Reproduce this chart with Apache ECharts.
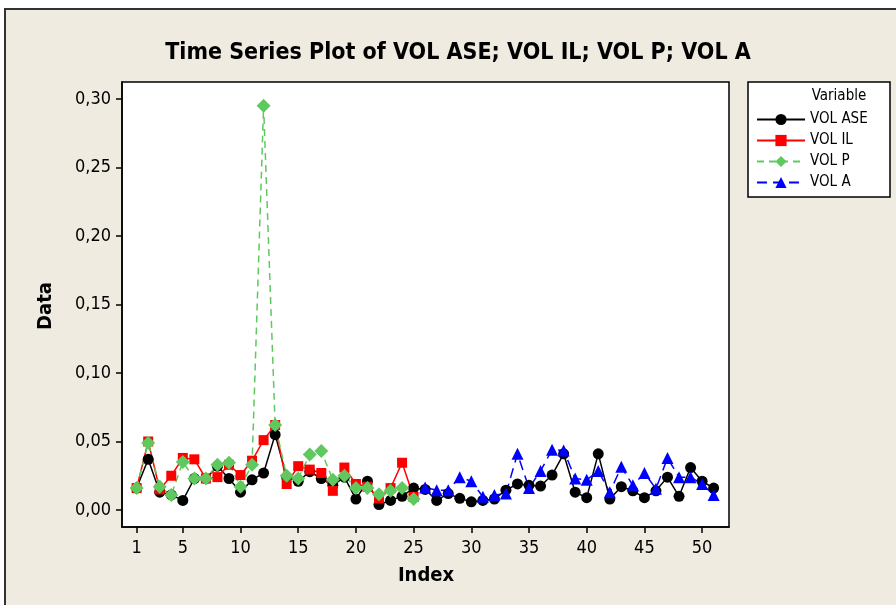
<!DOCTYPE html>
<html>
<head>
<meta charset="utf-8">
<script src="https://cdn.jsdelivr.net/npm/echarts@6/dist/echarts.min.js"></script>
<style>
html,body{margin:0;padding:0;background:#fff;width:896px;height:605px;overflow:hidden;}
#frame{position:absolute;left:4px;top:8px;width:1000px;height:800px;background:#EFEBE1;border-left:2px solid #333;border-top:2px solid #333;}
#chart{position:absolute;left:0;top:0;width:896px;height:605px;}
</style>
</head>
<body>
<div id="frame"></div>
<div id="chart"></div>
<script>
const xTicks = [1, 5, 10, 15, 20, 25, 30, 35, 40, 45, 50];
const yTicks = [0, 0.05, 0.10, 0.15, 0.20, 0.25, 0.30];

const volASE = [0.016,0.037,0.013,0.011,0.007,0.023,0.023,0.032,0.023,0.013,
                0.022,0.027,0.055,0.024,0.021,0.028,0.023,0.018,0.024,0.008,
                0.021,0.004,0.007,0.010,0.016,0.015,0.007,0.012,0.0085,0.006,
                0.007,0.008,0.0145,0.019,0.018,0.0175,0.0255,0.041,0.013,0.009,
                0.041,0.008,0.017,0.014,0.009,0.014,0.024,0.010,0.031,0.021,0.016];
const volIL = [0.016,0.050,0.015,0.025,0.038,0.037,0.023,0.024,0.033,0.0255,
               0.036,0.051,0.062,0.019,0.032,0.0295,0.027,0.014,0.031,0.019,
               0.017,0.0085,0.016,0.0345,0.0095];
const volP = [0.016,0.049,0.017,0.011,0.035,0.023,0.023,0.033,0.0345,0.017,
              0.033,0.295,0.062,0.025,0.023,0.0405,0.043,0.022,0.025,0.016,
              0.016,0.0115,0.014,0.016,0.008];
const volAStart = 26;
const volA = [0.0165,0.0145,0.0145,0.024,0.021,0.0097,0.011,0.012,0.041,0.016,
              0.0285,0.044,0.0435,0.023,0.022,0.0285,0.013,0.0315,0.018,0.027,
              0.0155,0.038,0.024,0.024,0.019,0.011];

function pairs(arr, start) { return arr.map((v, i) => [start + i, v]); }

const FONT = '"DejaVu Sans Condensed", "DejaVu Sans", Tahoma, sans-serif';
const chart = echarts.init(document.getElementById('chart'), null, {renderer: 'canvas'});

chart.setOption({
  backgroundColor: 'transparent',
  animation: false,
  grid: {left: 122, top: 82, right: 167, bottom: 78, show: true,
         backgroundColor: '#fff', borderColor: '#000', borderWidth: 1.5},
  xAxis: {type: 'value', min: -0.27, max: 52.33,
          axisLine: {show: true, onZero: false, lineStyle: {color: '#000', width: 1.5}},
          axisTick: {show: true, length: 6, customValues: xTicks, lineStyle: {color: '#000', width: 1.5}},
          axisLabel: {customValues: xTicks, margin: 12, fontFamily: FONT, fontSize: 18, color: '#000'},
          splitLine: {show: false}},
  yAxis: {type: 'value', min: -0.0124, max: 0.3124,
          axisLine: {show: true, onZero: false, lineStyle: {color: '#000', width: 1.5}},
          axisTick: {show: true, length: 6, customValues: yTicks, lineStyle: {color: '#000', width: 1.5}},
          axisLabel: {customValues: yTicks, margin: 11, fontFamily: FONT, fontSize: 18, color: '#000',
                      formatter: v => v.toFixed(2).replace('.', ',')},
          splitLine: {show: false}},
  legend: {orient: 'vertical', left: 751, top: 107, itemWidth: 48, itemHeight: 14, itemGap: 6,
           textStyle: {fontFamily: FONT, fontSize: 15, color: '#000'},
           data: ['VOL ASE', 'VOL IL', 'VOL P', 'VOL A']},
  graphic: [
    {type: 'rect', shape: {x: 748, y: 82, width: 142, height: 115}, z: -1,
     style: {fill: '#fff', stroke: '#000', lineWidth: 1.5}},
    {type: 'text', x: 839, y: 96, z: 10,
     style: {text: 'Variable', font: '15px ' + FONT, fill: '#000', align: 'center', verticalAlign: 'middle'}},
    {type: 'text', x: 458, y: 53, z: 10,
     style: {text: 'Time Series Plot of VOL ASE; VOL IL; VOL P; VOL A', font: 'bold 23px ' + FONT,
             fill: '#000', align: 'center', verticalAlign: 'middle'}},
    {type: 'text', x: 46, y: 306, rotation: Math.PI / 2, z: 10,
     style: {text: 'Data', font: 'bold 20px ' + FONT, fill: '#000', align: 'center', verticalAlign: 'middle'}},
    {type: 'text', x: 426, y: 576, z: 10,
     style: {text: 'Index', font: 'bold 20px ' + FONT, fill: '#000', align: 'center', verticalAlign: 'middle'}}
  ],
  series: [
    {name: 'VOL ASE', type: 'line', data: pairs(volASE, 1), symbol: 'circle', symbolSize: 11,
     itemStyle: {color: '#000'}, lineStyle: {color: '#000', width: 1.5, type: 'solid'}},
    {name: 'VOL IL', type: 'line', data: pairs(volIL, 1), symbol: 'rect', symbolSize: 10,
     itemStyle: {color: '#FF0000'}, lineStyle: {color: '#FF0000', width: 1.5, type: 'solid'}},
    {name: 'VOL P', type: 'line', data: pairs(volP, 1), symbol: 'diamond', symbolSize: 14,
     itemStyle: {color: '#5FC95F'}, lineStyle: {color: '#5FC95F', width: 1.5, type: [7, 5]}},
    {name: 'VOL A', type: 'line', data: pairs(volA, volAStart), symbol: 'triangle', symbolSize: 12,
     itemStyle: {color: '#0000FF'}, lineStyle: {color: '#0000FF', width: 1.5, type: [10, 6]}}
  ]
});
</script>
</body>
</html>
